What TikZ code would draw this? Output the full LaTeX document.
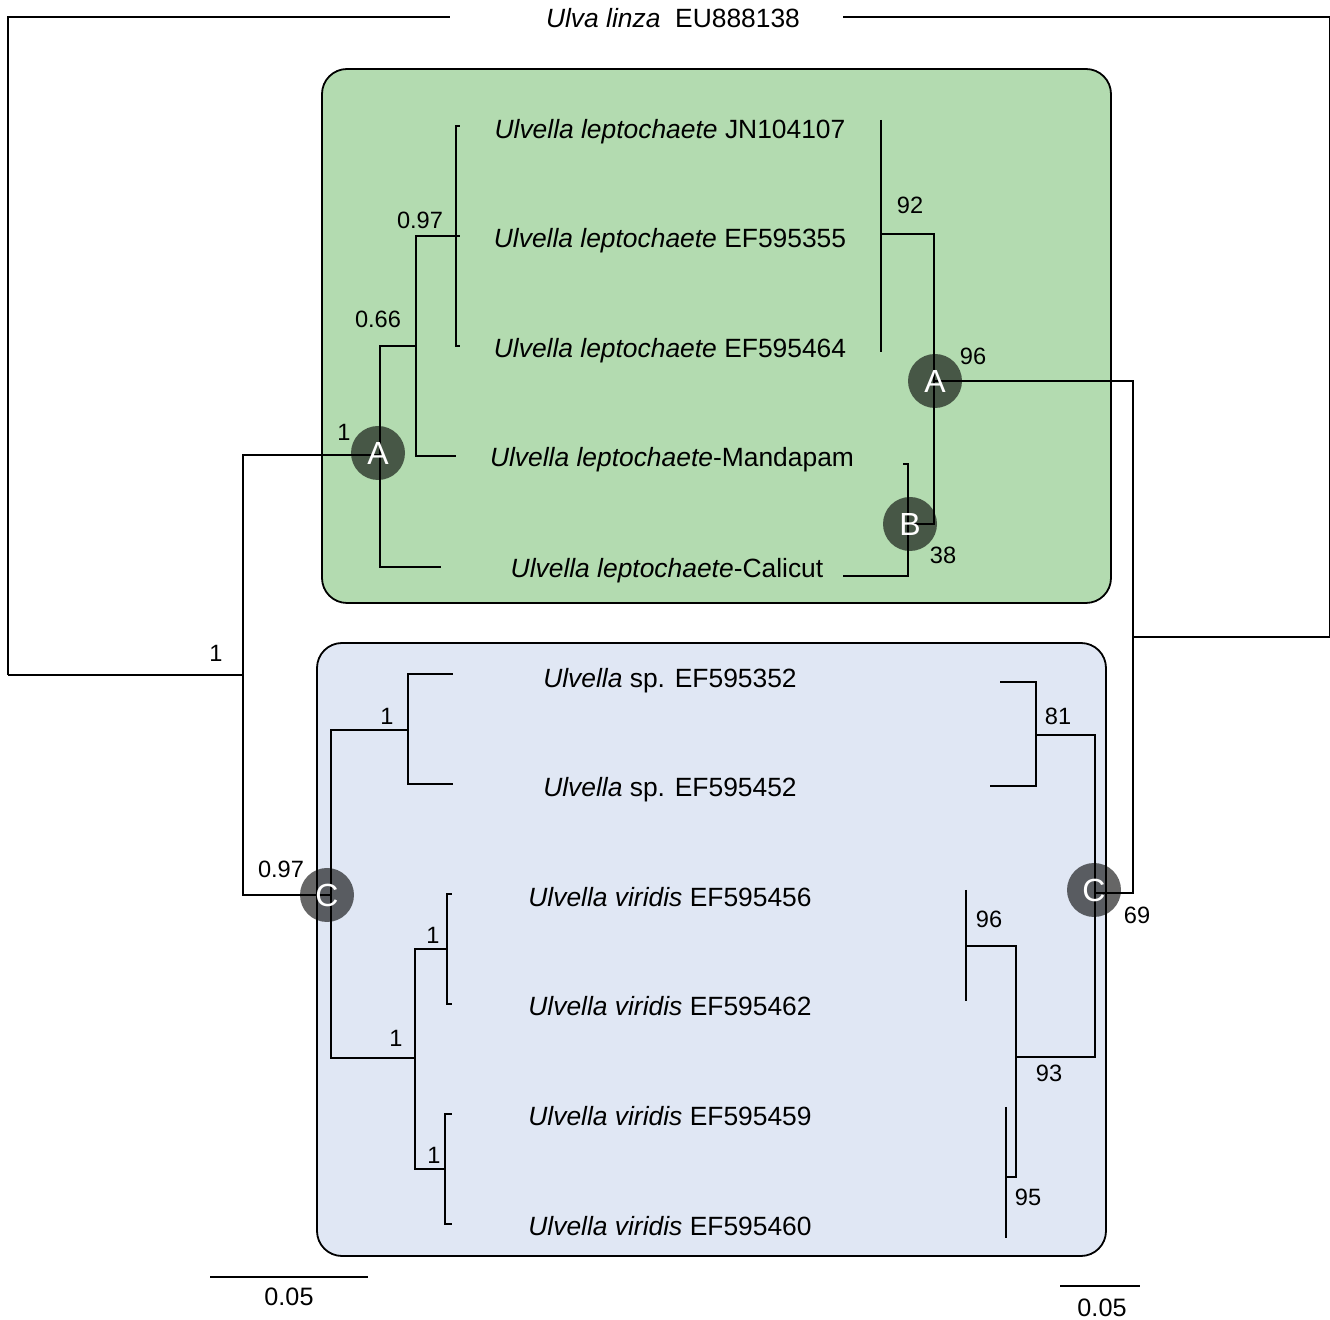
\documentclass[tikz,border=0pt]{standalone}
\usepackage{fontspec}
\setmainfont{Liberation Sans}
\definecolor{cladegreen}{HTML}{B3DBB0}
\definecolor{cladeblue}{HTML}{E0E7F4}

\begin{document}
\begin{tikzpicture}[x=0.5pt, y=-0.5pt, line width=1pt,
    taxon/.style = {font=\fontsize{13.2}{15}\selectfont, text depth=0pt, inner sep=0pt},
    supp/.style = {font=\fontsize{11.8}{14}\selectfont, inner sep=0pt},
    cladedot/.style = {circle, minimum size=27pt, inner sep=0pt, fill=black, fill opacity=0.6, text opacity=1, text=white, font=\fontsize{16}{18}\selectfont},
    cladebox/.style = {draw=black, line width=0.9pt, rounded corners=12.5pt}]
        \fill[white] (0,0) rectangle (1330,1320);
        \useasboundingbox (0,0) rectangle (1330,1320);
        \draw[cladebox, fill=cladegreen] (322,69) rectangle (1111,603); % leptochaete
        \draw[cladebox, fill=cladeblue] (317,643) rectangle (1106,1256); % sp. + viridis

        % taxa
        \node[taxon] (out) at (673,18) {\textit{Ulva linza}\ \ EU888138};
        \node[taxon] (lep1) at (670,129) {\textit{Ulvella leptochaete} JN104107};
        \node[taxon] (lep2) at (670,238) {\textit{Ulvella leptochaete} EF595355};
        \node[taxon] (lep3) at (670,348) {\textit{Ulvella leptochaete} EF595464};
        \node[taxon] (mand) at (672,457) {\textit{Ulvella leptochaete}-Mandapam};
        \node[taxon] (cali) at (667,568) {\textit{Ulvella leptochaete}-Calicut};
        \node[taxon] (sp1) at (670,678) {\textit{Ulvella} sp. EF595352};
        \node[taxon] (sp2) at (670,787) {\textit{Ulvella} sp. EF595452};
        \node[taxon] (vir1) at (670,897) {\textit{Ulvella viridis} EF595456};
        \node[taxon] (vir2) at (670,1006) {\textit{Ulvella viridis} EF595462};
        \node[taxon] (vir3) at (670,1116) {\textit{Ulvella viridis} EF595459};
        \node[taxon] (vir4) at (670,1226) {\textit{Ulvella viridis} EF595460};

        % left tree (Bayesian)
        \coordinate (outL) at (450,17);
        \coordinate (outR) at (843,17);
        \coordinate (corner) at (1330,17);
        \coordinate (base) at (8,675);
        \coordinate (ingr) at (243,675);
        \coordinate (bA) at (380,455);
        \coordinate (bC) at (331,895);
        \coordinate (b066) at (416,346);
        \coordinate (b097) at (456,236);
        \coordinate (bt1) at (460,126);
        \coordinate (bt2) at (460,236);
        \coordinate (bt3) at (460,346);
        \coordinate (bt4) at (456,456);
        \coordinate (bt5) at (441,567);
        \coordinate (bsp) at (408,730);
        \coordinate (bvir) at (415,1058);
        \coordinate (bv1) at (447,949);
        \coordinate (bv2) at (445,1169);
        \coordinate (bt6) at (453,674);
        \coordinate (bt7) at (453,784);
        \coordinate (bt8) at (452,894);
        \coordinate (bt9) at (452,1004);
        \coordinate (bt10) at (452,1114);
        \coordinate (bt11) at (452,1224);
        \draw (base) |- (outL);
        \draw (base) -- (ingr);
        \draw (ingr) |- (bA);
        \draw (ingr) |- (bC);
        \draw (bA) |- (b066);
        \draw (bA) |- (bt5);
        \draw (b066) |- (b097);
        \draw (b066) |- (bt4);
        \draw (b097) |- (bt1);
        \draw (b097) |- (bt3);
        \draw (b097) -- (bt2);
        \draw (bC) |- (bsp);
        \draw (bC) |- (bvir);
        \draw (bsp) |- (bt6);
        \draw (bsp) |- (bt7);
        \draw (bvir) |- (bv1);
        \draw (bvir) |- (bv2);
        \draw (bv1) |- (bt8);
        \draw (bv1) |- (bt9);
        \draw (bv2) |- (bt10);
        \draw (bv2) |- (bt11);

        % right tree (ML)
        \coordinate (mroot) at (1133,637);
        \coordinate (mA) at (934,381);
        \coordinate (mB) at (908,524);
        \coordinate (m92) at (881,234);
        \coordinate (mt1) at (881,120);
        \coordinate (mt3) at (881,352);
        \coordinate (mt4) at (903,464);
        \coordinate (mt5) at (843,576);
        \coordinate (mC) at (1095,893);
        \coordinate (m81) at (1036,735);
        \coordinate (m93) at (1016,1057);
        \coordinate (m96) at (966,946);
        \coordinate (m95) at (1006,1177);
        \coordinate (mt6) at (1000,682);
        \coordinate (mt7) at (990,786);
        \coordinate (mt8) at (966,890);
        \coordinate (mt9) at (966,1001);
        \coordinate (mt10) at (1006,1107);
        \coordinate (mt11) at (1006,1238);
        \draw (outR) -- (corner) |- (mroot);
        \draw (mroot) |- (mA);
        \draw (mroot) |- (mC);
        \draw (mA) |- (m92);
        \draw (mA) |- (mB);
        \draw (mt1) -- (mt3);
        \draw (mB) |- (mt4);
        \draw (mB) |- (mt5);
        \draw (mC) |- (m81);
        \draw (mC) |- (m93);
        \draw (m81) |- (mt6);
        \draw (m81) |- (mt7);
        \draw (m93) |- (m96);
        \draw (m93) |- (m95);
        \draw (mt8) -- (mt9);
        \draw (mt10) -- (mt11);

        % clade markers
        \node[cladedot] (dotA1) at (378,453) {A};
        \node[cladedot] (dotA2) at (935,381) {A};
        \node[cladedot] (dotB) at (910,524) {B};
        \node[cladedot] (dotC1) at (327,895) {C};
        \node[cladedot] (dotC2) at (1094,890) {C};

        % support values
        \node[supp] (s1) at (216,653) {1};
        \node[supp] (s2) at (344,432) {1};
        \node[supp] (s3) at (378,319) {0.66};
        \node[supp] (s4) at (420,220) {0.97};
        \node[supp] (s5) at (281,869) {0.97};
        \node[supp] (s6) at (387,716) {1};
        \node[supp] (s7) at (396,1038) {1};
        \node[supp] (s8) at (433,935) {1};
        \node[supp] (s9) at (434,1155) {1};
        \node[supp] (s10) at (910,205) {92};
        \node[supp] (s11) at (973,356) {96};
        \node[supp] (s12) at (943,555) {38};
        \node[supp] (s13) at (1137,915) {69};
        \node[supp] (s14) at (1058,716) {81};
        \node[supp] (s15) at (1049,1073) {93};
        \node[supp] (s16) at (989,919) {96};
        \node[supp] (s17) at (1028,1197) {95};

        % scale bars
        \coordinate (bar1a) at (210,1277);
        \coordinate (bar1b) at (368,1277);
        \coordinate (bar2a) at (1060,1286);
        \coordinate (bar2b) at (1140,1286);
        \draw (bar1a) -- (bar1b);
        \draw (bar2a) -- (bar2b);
        \node[supp, font=\fontsize{12.6}{14}\selectfont] (lab1) at (289,1297) {0.05};
        \node[supp, font=\fontsize{12.6}{14}\selectfont] (lab2) at (1102,1308) {0.05};
    \end{tikzpicture}
\end{document}
